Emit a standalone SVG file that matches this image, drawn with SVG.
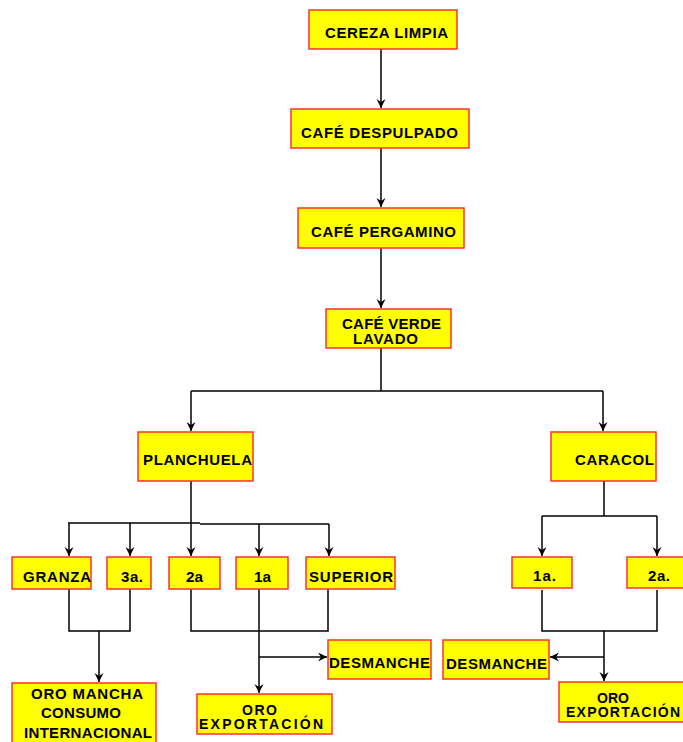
<svg xmlns="http://www.w3.org/2000/svg" width="683" height="742" viewBox="0 0 683 742">
<style>
.b{fill:#ffff00;stroke:#ff3030;stroke-width:1.5}
.t{font-family:"Liberation Sans",Arial,sans-serif;font-weight:bold;font-size:15px;fill:#000}
.s{font-size:14px}
.c{fill:none;stroke:#000;stroke-width:1.5}
</style>
<defs>
<marker id="ah" markerUnits="userSpaceOnUse" markerWidth="10" markerHeight="10" refX="9" refY="5" orient="auto" viewBox="0 0 10 10">
<path d="M0,0.5 L9,5 L0,9.5 L3,5 z" fill="#000"/>
</marker>
</defs>
<rect width="683" height="742" fill="#fff"/>
<g id="connectors">
<path class="c" d="M381,49 V108" marker-end="url(#ah)"/>
<path class="c" d="M381,148 V207" marker-end="url(#ah)"/>
<path class="c" d="M381,248 V308" marker-end="url(#ah)"/>
<path class="c" d="M381,348 V391 M191,391 H603"/>
<path class="c" d="M191,391 V431" marker-end="url(#ah)"/>
<path class="c" d="M603,391 V431" marker-end="url(#ah)"/>
<path class="c" d="M191,481 V556" marker-end="url(#ah)"/>
<path class="c" d="M68,523 H200 M200,524 H329"/>
<path class="c" d="M69,523 V556" marker-end="url(#ah)"/>
<path class="c" d="M130,523 V556" marker-end="url(#ah)"/>
<path class="c" d="M259,524 V556" marker-end="url(#ah)"/>
<path class="c" d="M329,524 V556" marker-end="url(#ah)"/>
<path class="c" d="M69,589 V631 H130 V589"/>
<path class="c" d="M99,631 V682" marker-end="url(#ah)"/>
<path class="c" d="M191,589 V631 H328 V589"/>
<path class="c" d="M259,589 V693" marker-end="url(#ah)"/>
<path class="c" d="M259,657 H327" marker-end="url(#ah)"/>
<path class="c" d="M604,481 V516 M542,516 H657"/>
<path class="c" d="M542,516 V556" marker-end="url(#ah)"/>
<path class="c" d="M657,516 V556" marker-end="url(#ah)"/>
<path class="c" d="M542,590 V631 H657 V590"/>
<path class="c" d="M604,631 V681" marker-end="url(#ah)"/>
<path class="c" d="M604,657 H550" marker-end="url(#ah)"/>
</g>
<g id="n1"><rect class="b" x="309" y="10" width="148" height="39"/><text class="t" x="325" y="38" textLength="123" lengthAdjust="spacing">CEREZA LIMPIA</text></g>
<g id="n2"><rect class="b" x="291" y="109" width="178" height="39"/><text class="t" x="301" y="138" textLength="157" lengthAdjust="spacing">CAFÉ DESPULPADO</text></g>
<g id="n3"><rect class="b" x="298" y="208" width="166" height="40"/><text class="t" x="311" y="237" textLength="145" lengthAdjust="spacing">CAFÉ PERGAMINO</text></g>
<g id="n4"><rect class="b" x="326" y="309" width="125" height="39"/><text class="t" x="342" y="329" textLength="99" lengthAdjust="spacing">CAFÉ VERDE</text><text class="t" x="353" y="344" textLength="65" lengthAdjust="spacing">LAVADO</text></g>
<g id="n5"><rect class="b" x="138" y="432" width="115" height="49"/><text class="t" x="143" y="465" textLength="109" lengthAdjust="spacing">PLANCHUELA</text></g>
<g id="n6"><rect class="b" x="551" y="432" width="105" height="49"/><text class="t" x="575" y="465" textLength="79" lengthAdjust="spacing">CARACOL</text></g>
<g id="n7"><rect class="b" x="12" y="557" width="79" height="32"/><text class="t" x="23" y="582" textLength="68" lengthAdjust="spacing">GRANZA</text></g>
<g id="n8"><rect class="b" x="107" y="557" width="44" height="32"/><text class="t" x="121" y="582" textLength="22" lengthAdjust="spacing">3a.</text></g>
<g id="n9"><rect class="b" x="169" y="557" width="51" height="32"/><text class="t" x="186" y="582" textLength="17" lengthAdjust="spacingAndGlyphs">2a</text></g>
<g id="n10"><rect class="b" x="236" y="557" width="52" height="32"/><text class="t" x="254" y="582" textLength="17" lengthAdjust="spacingAndGlyphs">1a</text></g>
<g id="n11"><rect class="b" x="306" y="557" width="89" height="32"/><text class="t" x="309" y="582" textLength="84" lengthAdjust="spacing">SUPERIOR</text></g>
<g id="n12"><rect class="b" x="12" y="683" width="144" height="70"/><text class="t" x="31" y="699" textLength="112" lengthAdjust="spacing">ORO MANCHA</text><text class="t" x="41" y="718" textLength="80" lengthAdjust="spacing">CONSUMO</text><text class="t" x="24" y="738" textLength="128" lengthAdjust="spacing">INTERNACIONAL</text></g>
<g id="n13"><rect class="b" x="328" y="640" width="103" height="39"/><text class="t" x="329" y="668" textLength="101" lengthAdjust="spacing">DESMANCHE</text></g>
<g id="n14"><rect class="b" x="197" y="694" width="135" height="40"/><text class="t s" x="242" y="715" textLength="35" lengthAdjust="spacing">ORO</text><text class="t s" x="199" y="729" textLength="124" lengthAdjust="spacing">EXPORTACIÓN</text></g>
<g id="n15"><rect class="b" x="512" y="557" width="60" height="31"/><text class="t" x="533" y="581" textLength="23" lengthAdjust="spacing">1a.</text></g>
<g id="n16"><rect class="b" x="627" y="557" width="70" height="31"/><text class="t" x="648" y="581" textLength="22" lengthAdjust="spacing">2a.</text></g>
<g id="n17"><rect class="b" x="443" y="640" width="106" height="39"/><text class="t" x="446" y="669" textLength="101" lengthAdjust="spacing">DESMANCHE</text></g>
<g id="n18"><rect class="b" x="559" y="682" width="130" height="40"/><text class="t s" x="597" y="703">ORO</text><text class="t s" x="566" y="717" textLength="114" lengthAdjust="spacing">EXPORTACIÓN</text></g>
</svg>
